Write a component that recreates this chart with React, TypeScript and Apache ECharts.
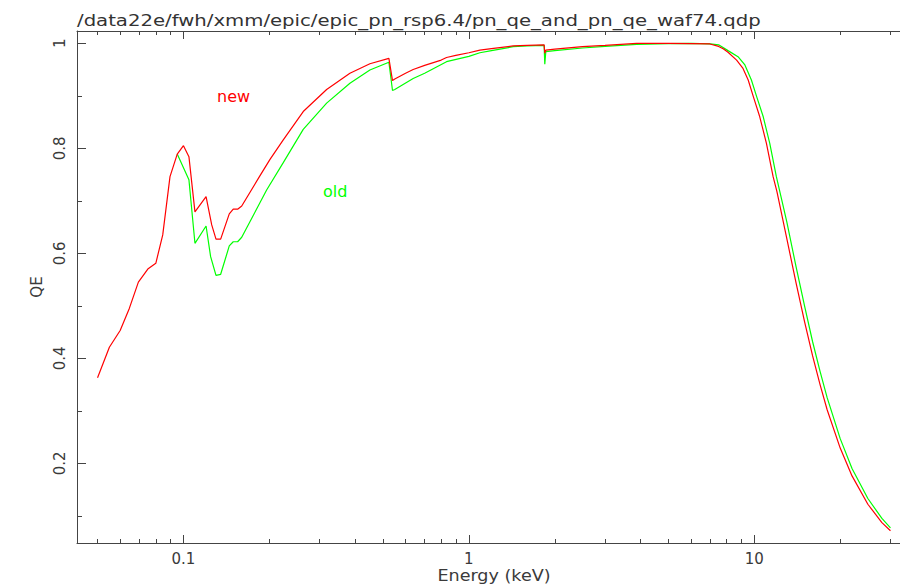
import React, { useEffect, useRef } from "react";
import * as echarts from "echarts";

// ---- data ----
const NEW_E = [
  0.05, 0.055, 0.06, 0.0646, 0.0695, 0.075, 0.08, 0.0846, 0.0897, 0.0951, 0.1, 0.1045,
  0.1097, 0.12, 0.1256, 0.13, 0.135, 0.1447, 0.1494, 0.1548, 0.16, 0.185, 0.201, 0.2237,
  0.2628, 0.3174, 0.383, 0.45, 0.5245, 0.54, 0.55, 0.6, 0.638, 0.7, 0.8, 0.835, 0.9, 1.0,
  1.093, 1.2, 1.43, 1.6, 1.835, 1.845, 1.86, 2.0, 2.5, 3.0, 3.87, 5.0, 6.0, 6.99, 7.5,
  7.78, 8.09, 8.67, 9.13, 9.52, 9.93, 10.45, 11.03, 11.64, 12, 13, 14, 15, 16, 17, 18, 20,
  22, 25, 28, 30,
];
const NEW_QE = [
  0.363, 0.421, 0.453, 0.495, 0.545, 0.57, 0.581, 0.635, 0.746, 0.789, 0.805, 0.784,
  0.679, 0.708, 0.654, 0.627, 0.627, 0.675, 0.684, 0.684, 0.69, 0.747, 0.779, 0.816,
  0.87, 0.912, 0.943, 0.961, 0.9714, 0.929, 0.932, 0.943, 0.95, 0.958, 0.968, 0.973, 0.977,
  0.982, 0.987, 0.99, 0.995, 0.996, 0.997, 0.981, 0.987, 0.989, 0.9935, 0.996, 1.0, 1.0,
  0.9995, 0.9987, 0.994, 0.9895, 0.983, 0.968, 0.952, 0.93, 0.898, 0.86, 0.8095, 0.746,
  0.718, 0.628, 0.544, 0.47, 0.405, 0.35, 0.302, 0.229, 0.176, 0.122, 0.087, 0.0716,
];

const OLD_E = [
  0.0951, 0.1045, 0.1097, 0.12, 0.1245, 0.13, 0.135, 0.1447, 0.1494, 0.1548, 0.16, 0.1956,
  0.2237, 0.2628, 0.3174, 0.383, 0.45, 0.5245, 0.54, 0.55, 0.638, 0.7, 0.835, 1.0, 1.093,
  1.2, 1.43, 1.6, 1.835, 1.845, 1.86, 2.0, 2.5, 3.0, 3.87, 5.0, 6.0, 7.0, 7.5, 8.09, 8.77,
  9.27, 9.77, 10.2, 10.75, 11.33, 11.95, 13, 14, 15, 16, 17, 18, 20, 22, 25, 28, 30,
];
const OLD_QE = [
  0.789, 0.74, 0.619, 0.652, 0.5935, 0.558, 0.56, 0.614, 0.622, 0.622, 0.6305, 0.7206,
  0.7726, 0.836, 0.886, 0.924, 0.949, 0.964, 0.91, 0.912, 0.933, 0.943, 0.965, 0.975, 0.982,
  0.986, 0.9935, 0.995, 0.996, 0.96, 0.984, 0.986, 0.991, 0.994, 0.998, 0.9995, 1.0, 0.999,
  0.997, 0.986, 0.9745, 0.9587, 0.93, 0.898, 0.86, 0.8095, 0.746, 0.66, 0.575, 0.5, 0.432,
  0.375, 0.325, 0.247, 0.19, 0.133, 0.095, 0.077,
];

const X_MAJOR = [0.1, 1, 10];
const X_MINOR = [
  0.05, 0.06, 0.07, 0.08, 0.09, 0.2, 0.3, 0.4, 0.5, 0.6, 0.7, 0.8, 0.9, 2, 3, 4, 5, 6, 7,
  8, 9, 20, 30,
];
const Y_MAJOR = [0.2, 0.4, 0.6, 0.8, 1];
const Y_MINOR = [0.1, 0.3, 0.5, 0.7, 0.9];

const TITLE = "/data22e/fwh/xmm/epic/epic_pn_rsp6.4/pn_qe_and_pn_qe_waf74.qdp";
const X_NAME = "Energy (keV)";
const Y_NAME = "QE";

const X_MIN_E = 0.04236; // left edge of plot (keV)
const X_MAX_E = 32.4; // right edge of picture (keV)
const Y_MIN = 0.0482;
const Y_MAX = 1.0234;

const FONT = "DejaVu Sans";
const AXIS_COLOR = "#444";
const TEXT_COLOR = "#3a3a3a";

function fmtE(v: number): string {
  const e = Math.pow(10, v);
  return String(Math.round(e * 1000) / 1000);
}

export default function App() {
  const ref = useRef<HTMLDivElement>(null);

  useEffect(() => {
    if (!ref.current) return;
    const chart = echarts.init(ref.current, undefined, { renderer: "svg" });
    const lg = (a: number[]) => a.map((v) => Math.log10(v));
    const xMin = Math.log10(X_MIN_E);
    const xMax = Math.log10(X_MAX_E);
    const lineStyle = { color: AXIS_COLOR, width: 1 };

    const xAxisBase = (position: string, ticks: number[], len: number, showLine: boolean, showLabel: boolean) => ({
      type: "value",
      position,
      min: xMin,
      max: xMax,
      axisLine: { show: showLine, onZero: false, lineStyle },
      axisTick: { show: true, inside: true, length: len, customValues: lg(ticks), lineStyle },
      axisLabel: {
        show: showLabel,
        customValues: lg(ticks),
        formatter: (v: number) => fmtE(v),
        margin: 8,
        fontSize: 15,
        fontFamily: FONT,
        color: TEXT_COLOR,
      },
      splitLine: { show: false },
    });

    const yAxisBase = (ticks: number[], len: number, showLine: boolean, showLabel: boolean, withName: boolean) => ({
      type: "value",
      position: "left",
      min: Y_MIN,
      max: Y_MAX,
      name: withName ? Y_NAME : "",
      nameLocation: "middle",
      nameGap: 29,
      nameTextStyle: { fontSize: 15, fontFamily: FONT, color: TEXT_COLOR },
      axisLine: { show: showLine, onZero: false, lineStyle },
      axisTick: { show: true, inside: true, length: len, customValues: ticks, lineStyle },
      axisLabel: {
        show: showLabel,
        customValues: ticks,
        rotate: 90,
        formatter: (v: number) => String(Math.round(v * 10) / 10),
        margin: 10,
        fontSize: 15,
        fontFamily: FONT,
        color: TEXT_COLOR,
      },
      splitLine: { show: false },
    });

    const option: any = {
      animation: false,
      backgroundColor: "#ffffff",
      grid: { left: 77, right: 0, top: 31, bottom: 43, containLabel: false },
      xAxis: [
        xAxisBase("bottom", X_MAJOR, 8, true, true),
        xAxisBase("bottom", X_MINOR, 4, false, false),
        xAxisBase("top", X_MAJOR, 8, true, false),
        xAxisBase("top", X_MINOR, 4, false, false),
      ],
      yAxis: [
        yAxisBase(Y_MAJOR, 9, true, true, true),
        yAxisBase(Y_MINOR, 5, false, false, false),
      ],
      series: [
        {
          name: "old",
          type: "line",
          xAxisIndex: 0,
          yAxisIndex: 0,
          data: OLD_E.map((e, i) => [Math.log10(e), OLD_QE[i]]),
          symbol: "none",
          showSymbol: false,
          silent: true,
          lineStyle: { color: "#00ff00", width: 1.2 },
          z: 2,
        },
        {
          name: "new",
          type: "line",
          xAxisIndex: 0,
          yAxisIndex: 0,
          data: NEW_E.map((e, i) => [Math.log10(e), NEW_QE[i]]),
          symbol: "none",
          showSymbol: false,
          silent: true,
          lineStyle: { color: "#ff0000", width: 1.2 },
          z: 3,
        },
      ],
      graphic: [
        {
          type: "text",
          x: 77,
          y: 20,
          scaleX: 1.23,
          silent: true,
          style: {
            text: TITLE,
            fontSize: 16,
            fontFamily: FONT,
            fill: "#333",
            align: "left",
            verticalAlign: "middle",
          },
        },
        {
          type: "text",
          x: 494,
          y: 575,
          scaleX: 1.1,
          silent: true,
          style: {
            text: X_NAME,
            fontSize: 16,
            fontFamily: FONT,
            fill: TEXT_COLOR,
            align: "center",
            verticalAlign: "middle",
          },
        },
        {
          type: "text",
          x: 217,
          y: 96,
          silent: true,
          style: {
            text: "new",
            fontSize: 16,
            fontFamily: FONT,
            fill: "#ff0000",
            align: "left",
            verticalAlign: "middle",
          },
        },
        {
          type: "text",
          x: 323,
          y: 191,
          silent: true,
          style: {
            text: "old",
            fontSize: 16,
            fontFamily: FONT,
            fill: "#00ff00",
            align: "left",
            verticalAlign: "middle",
          },
        },
      ],
    };
    chart.setOption(option);
    return () => chart.dispose();
  }, []);

  return (
    <div
      ref={ref}
      style={{ position: "absolute", left: 0, top: 0, width: 900, height: 586, background: "#fff" }}
    />
  );
}
